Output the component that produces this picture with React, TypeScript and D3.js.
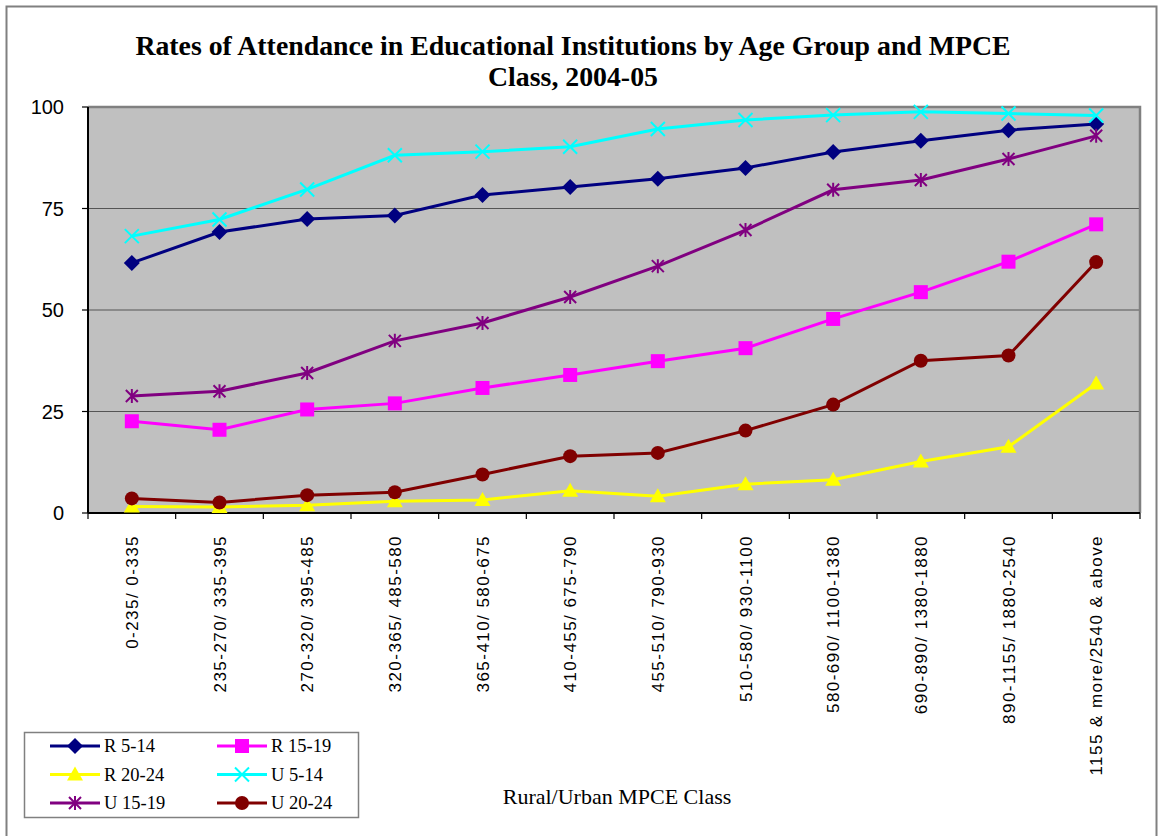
import React, { useEffect, useRef } from "react";
import * as d3 from "d3";

// MPCE classes (rural / urban)
const categories = [
  "0-235/ 0-335",
  "235-270/ 335-395",
  "270-320/ 395-485",
  "320-365/ 485-580",
  "365-410/ 580-675",
  "410-455/ 675-790",
  "455-510/ 790-930",
  "510-580/ 930-1100",
  "580-690/ 1100-1380",
  "690-890/ 1380-1880",
  "890-1155/ 1880-2540",
  "1155 & more/2540 & above",
];

const r514 = [61.6, 69.2, 72.4, 73.3, 78.3, 80.3, 82.3, 85.0, 88.9, 91.7, 94.3, 95.8];
const r1519 = [22.6, 20.5, 25.5, 27.0, 30.8, 34.0, 37.4, 40.6, 47.8, 54.4, 61.9, 71.1];
const r2024 = [1.6, 1.5, 1.9, 2.9, 3.2, 5.5, 4.1, 7.1, 8.2, 12.7, 16.3, 31.9];
const u514 = [68.2, 72.3, 79.7, 88.1, 89.0, 90.2, 94.6, 96.8, 98.0, 98.8, 98.4, 97.9];
const u1519 = [28.8, 30.0, 34.5, 42.4, 46.8, 53.2, 60.8, 69.7, 79.6, 82.0, 87.2, 92.9];
const u2024 = [3.6, 2.6, 4.4, 5.1, 9.5, 14.0, 14.8, 20.3, 26.7, 37.5, 38.8, 61.8];

const yTicks = [0, 25, 50, 75, 100];

type Series = { name: string; values: number[]; color: string; marker: string };

const series: Series[] = [
  { name: "R 5-14", values: r514, color: "#000080", marker: "diamond" },
  { name: "R 15-19", values: r1519, color: "#FF00FF", marker: "square" },
  { name: "R 20-24", values: r2024, color: "#FFFF00", marker: "triangle" },
  { name: "U 5-14", values: u514, color: "#00FFFF", marker: "x" },
  { name: "U 15-19", values: u1519, color: "#800080", marker: "asterisk" },
  { name: "U 20-24", values: u2024, color: "#800000", marker: "circle" },
];

const W = 1161;
const H = 836;
const plot = { left: 88, right: 1140, top: 107, bottom: 513 };
const SERIF = "'Liberation Serif', 'Times New Roman', Times, serif";
const SANS = "'Liberation Sans', Arial, Helvetica, sans-serif";

function drawMarker(
  g: d3.Selection<SVGGElement, unknown, null, undefined>,
  kind: string,
  x: number,
  y: number,
  color: string
) {
  if (kind === "diamond") {
    g.append("path")
      .attr("d", `M${x},${y - 8}L${x + 8},${y}L${x},${y + 8}L${x - 8},${y}Z`)
      .attr("fill", color);
  } else if (kind === "square") {
    g.append("rect")
      .attr("x", x - 7).attr("y", y - 7).attr("width", 14).attr("height", 14)
      .attr("fill", color);
  } else if (kind === "triangle") {
    g.append("path")
      .attr("d", `M${x},${y - 8}L${x + 8},${y + 6}L${x - 8},${y + 6}Z`)
      .attr("fill", color);
  } else if (kind === "circle") {
    g.append("circle").attr("cx", x).attr("cy", y).attr("r", 7).attr("fill", color);
  } else if (kind === "x") {
    g.append("path")
      .attr("d", `M${x - 7},${y - 7}L${x + 7},${y + 7}M${x - 7},${y + 7}L${x + 7},${y - 7}`)
      .attr("stroke", color).attr("stroke-width", 2).attr("fill", "none");
  } else if (kind === "asterisk") {
    g.append("path")
      .attr(
        "d",
        `M${x - 6},${y - 6}L${x + 6},${y + 6}M${x - 6},${y + 6}L${x + 6},${y - 6}M${x},${y - 7}L${x},${y + 7}`
      )
      .attr("stroke", color).attr("stroke-width", 2).attr("fill", "none");
  }
}

export default function App() {
  const ref = useRef<SVGSVGElement>(null);

  useEffect(() => {
    const svg = d3.select(ref.current);
    svg.selectAll("*").remove();

    svg.append("rect").attr("x", 0).attr("y", 0).attr("width", W).attr("height", H).attr("fill", "#fff");
    // chart frame
    svg.append("rect")
      .attr("x", 6.5).attr("y", 6.5).attr("width", 1150).attr("height", 840)
      .attr("fill", "none").attr("stroke", "#808080").attr("stroke-width", 2);

    const x = d3.scaleBand<string>().domain(categories).range([plot.left, plot.right]);
    const y = d3.scaleLinear().domain([0, 100]).range([plot.bottom, plot.top]);

    // plot area
    svg.append("rect")
      .attr("x", plot.left).attr("y", plot.top)
      .attr("width", plot.right - plot.left).attr("height", plot.bottom - plot.top)
      .attr("fill", "#C0C0C0");

    // gridlines
    svg.append("g")
      .selectAll("line")
      .data(yTicks.filter((t) => t > 0 && t < 100))
      .join("line")
      .attr("x1", plot.left).attr("x2", plot.right)
      .attr("y1", (d) => y(d)).attr("y2", (d) => y(d))
      .attr("stroke", "#555").attr("stroke-width", 1.2);

    // plot border top/right
    svg.append("path")
      .attr("d", `M${plot.left},${plot.top}H${plot.right}V${plot.bottom}`)
      .attr("fill", "none").attr("stroke", "#808080").attr("stroke-width", 2.5);

    // y axis
    const yAxis = svg.append("g");
    yAxis.append("line")
      .attr("x1", plot.left).attr("x2", plot.left).attr("y1", plot.top).attr("y2", plot.bottom)
      .attr("stroke", "#000").attr("stroke-width", 2);
    yTicks.forEach((t) => {
      yAxis.append("line")
        .attr("x1", plot.left - 6).attr("x2", plot.left).attr("y1", y(t)).attr("y2", y(t))
        .attr("stroke", "#000").attr("stroke-width", 1.2);
      yAxis.append("text")
        .attr("x", 64).attr("y", y(t)).attr("dy", "0.35em")
        .attr("text-anchor", "end")
        .style("font-family", SANS)
        .attr("font-size", 20)
        .text(String(t));
    });

    // x axis
    const xAxis = svg.append("g");
    xAxis.append("line")
      .attr("x1", plot.left).attr("x2", plot.right).attr("y1", plot.bottom).attr("y2", plot.bottom)
      .attr("stroke", "#000").attr("stroke-width", 2);
    const bounds = categories.map((c) => x(c) as number).concat([plot.right]);
    bounds.forEach((b) => {
      xAxis.append("line")
        .attr("x1", b).attr("x2", b).attr("y1", plot.bottom).attr("y2", plot.bottom + 6)
        .attr("stroke", "#000").attr("stroke-width", 1.2);
    });
    categories.forEach((c) => {
      const cx = (x(c) as number) + x.bandwidth() / 2;
      xAxis.append("text")
        .attr("transform", `translate(${cx + 6},${535}) rotate(-90)`)
        .attr("text-anchor", "end")
        .style("font-family", SANS)
        .attr("font-size", 17)
        .attr("letter-spacing", 1.45)
        .text(c);
    });

    // series
    const line = d3
      .line<number>()
      .x((_, i) => (x(categories[i]) as number) + x.bandwidth() / 2)
      .y((d) => y(d));

    series.forEach((s) => {
      const g = svg.append("g");
      g.append("path")
        .attr("d", line(s.values))
        .attr("fill", "none")
        .attr("stroke", s.color)
        .attr("stroke-width", 3);
      s.values.forEach((v, i) => {
        drawMarker(g as any, s.marker, (x(categories[i]) as number) + x.bandwidth() / 2, y(v), s.color);
      });
    });

    // title
    const title = svg.append("text")
      .attr("text-anchor", "middle")
      .style("font-family", SERIF)
      .attr("font-weight", "bold")
      .attr("font-size", 27.8);
    title.append("tspan").attr("x", 573).attr("y", 55)
      .text("Rates of Attendance in Educational Institutions by Age Group and MPCE");
    title.append("tspan").attr("x", 573).attr("y", 86).text("Class, 2004-05");

    // x-axis title
    svg.append("text")
      .attr("x", 617).attr("y", 804)
      .attr("text-anchor", "middle")
      .style("font-family", SERIF)
      .attr("font-size", 22)
      .text("Rural/Urban MPCE Class");

    // legend
    const lg = svg.append("g");
    lg.append("rect")
      .attr("x", 24.5).attr("y", 732.5).attr("width", 334).attr("height", 85)
      .attr("fill", "#fff").attr("stroke", "#808080").attr("stroke-width", 1.5);
    series.forEach((s, i) => {
      const col = i % 2;
      const row = Math.floor(i / 2);
      const lx = col === 0 ? 50 : 217;
      const ly = 746 + row * 28.5;
      const g = lg.append("g");
      g.append("line")
        .attr("x1", lx).attr("x2", lx + 50).attr("y1", ly).attr("y2", ly)
        .attr("stroke", s.color).attr("stroke-width", 3);
      drawMarker(g as any, s.marker, lx + 25, ly, s.color);
      g.append("text")
        .attr("x", lx + 54).attr("y", ly).attr("dy", "0.35em")
        .style("font-family", SERIF)
        .attr("font-size", 18.5)
        .text(s.name);
    });
  }, []);

  return (
    <svg
      ref={ref}
      width={W}
      height={H}
      style={{ position: "absolute", left: 0, top: 0, display: "block" }}
    />
  );
}
